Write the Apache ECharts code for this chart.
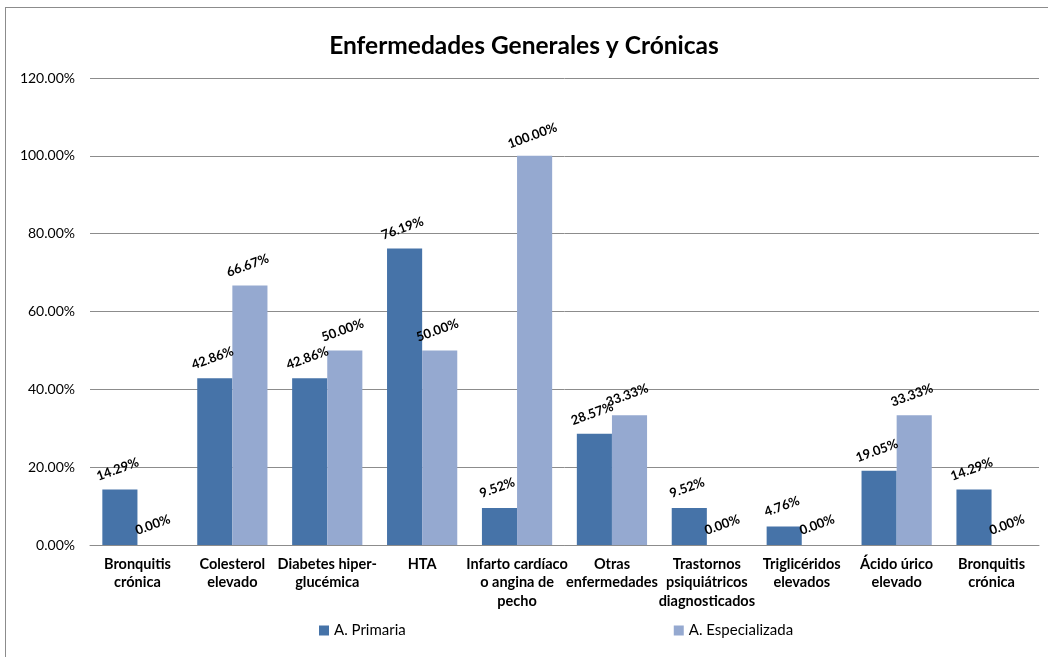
<!DOCTYPE html>
<html>
<head>
<meta charset="utf-8">
<script src="https://cdn.jsdelivr.net/npm/echarts@6/dist/echarts.min.js"></script>
<style>
html,body{margin:0;padding:0;width:1048px;height:657px;overflow:hidden;background:#fff;}
#frame{position:absolute;left:5px;top:7px;width:1100px;height:700px;border-left:1px solid #8c8c8c;border-top:1px solid #8c8c8c;}
#chart{position:absolute;left:0;top:0;width:1048px;height:657px;}
</style>
</head>
<body>
<div id="frame"></div>
<div id="chart"></div>
<script>
const categories = ["Bronquitis\ncrónica","Colesterol\nelevado","Diabetes hiper-\nglucémica","HTA","Infarto cardíaco\no angina de\npecho","Otras\nenfermedades","Trastornos\npsiquiátricos\ndiagnosticados","Triglicéridos\nelevados","Ácido úrico\nelevado","Bronquitis\ncrónica"];
const primaria = [14.29,42.86,42.86,76.19,9.52,28.57,9.52,4.76,19.05,14.29];
const especializada = [0,66.67,50,50,100,33.33,0,0,33.33,0];
const seriesNames = ["A. Primaria","A. Especializada"];
const titleText = "Enfermedades Generales y Crónicas";

const font = "Lato, 'Liberation Sans', sans-serif";
const chart = echarts.init(document.getElementById('chart'));
const labelCfg = {
  show:true, position:'top', rotate:20, distance:14,
  fontFamily:font, fontWeight:'bold', fontSize:13, color:'#000',
  formatter:p=>p.value.toFixed(2)+'%'
};
chart.setOption({
  animation:false,
  title:{text:titleText,left:'center',top:29,textStyle:{fontFamily:font,fontWeight:'bold',fontSize:24.5,color:'#000'}},
  grid:{left:90,right:9,top:78,bottom:112,containLabel:false},
  legend:{bottom:14,left:314,itemWidth:10,itemHeight:10,itemGap:268,icon:'rect',
    textStyle:{fontFamily:font,fontSize:15,color:'#000'},data:seriesNames},
  xAxis:{type:'category',data:categories,
    axisLine:{lineStyle:{color:'#8c8c8c',width:1}},axisTick:{show:false},
    axisLabel:{interval:0,margin:10,fontFamily:font,fontWeight:'bold',fontSize:14.5,color:'#000',lineHeight:18.5}},
  yAxis:{type:'value',min:0,max:120,interval:20,
    axisLine:{show:false},axisTick:{show:false},
    splitLine:{lineStyle:{color:'#8c8c8c',width:1}},
    axisLabel:{margin:15,fontFamily:font,fontSize:14,color:'#000',formatter:v=>v.toFixed(2)+'%'}},
  series:[
    {name:seriesNames[0],type:'bar',data:primaria,itemStyle:{color:'#4673A8'},barGap:'0%',barCategoryGap:'26%',label:labelCfg},
    {name:seriesNames[1],type:'bar',data:especializada,itemStyle:{color:'#95A9D0'},barGap:'0%',barCategoryGap:'26%',label:labelCfg}
  ]
});
</script>
</body>
</html>
